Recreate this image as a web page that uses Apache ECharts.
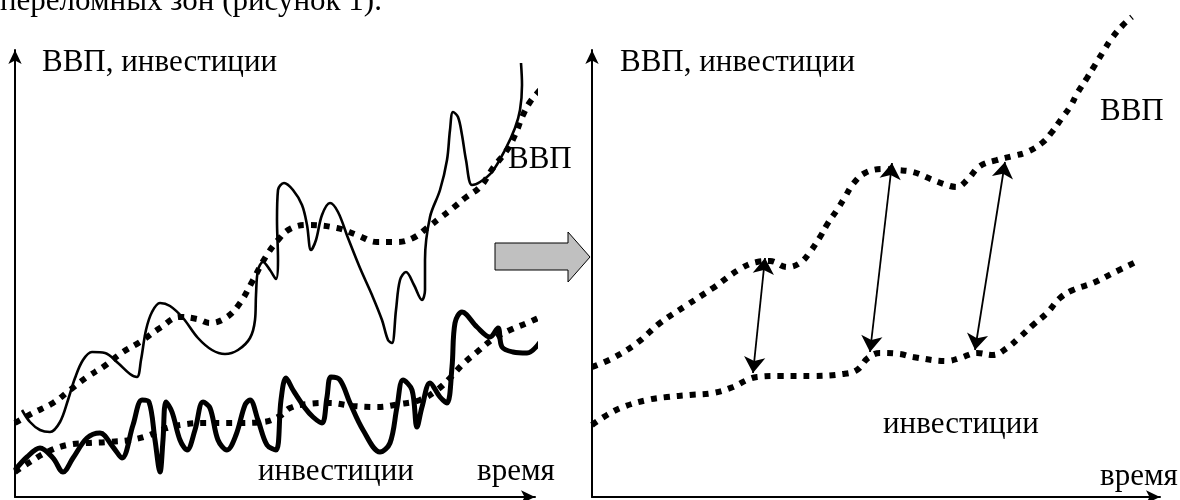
<!DOCTYPE html>
<html lang="ru">
<head>
<meta charset="utf-8">
<title>ВВП и инвестиции</title>
<script src="https://cdn.jsdelivr.net/npm/echarts@6/dist/echarts.min.js"></script>
<style>
  html, body { margin: 0; padding: 0; background: #fff; }
  #main { width: 1180px; height: 500px; }
</style>
</head>
<body>
<div id="main"></div>
<script>
// левая панель: [время, величина]
var gdpTrendLeft = [[0,74],[18,84],[38,94],[55,107],[72,120],[88,130],[108,145],[125,155],[145,169],[165,180],[182,178],[195,174],[212,180],[225,194],[237,215],[250,239],[263,257],[275,268],[292,272],[322,269],[342,262],[362,255],[382,255],[398,259],[412,269],[425,279],[438,289],[450,299],[465,310],[478,329],[492,347],[500,362],[508,382],[515,395],[525,407],[533,417],[542,424]];
var gdpLeft = [[7,87],[15,75],[25,67],[35,65],[45,75],[53,97],[60,119],[68,137],[77,145],[90,144],[103,134],[115,123],[122,120],[126,137],[131,167],[137,185],[145,194],[155,191],[168,179],[183,159],[197,147],[210,143],[223,147],[235,159],[240,177],[241,202],[243,227],[248,235],[255,227],[261,218],[263,237],[262,277],[263,307],[269,314],[278,307],[287,292],[292,272],[296,247],[301,257],[307,282],[315,294],[323,285],[333,259],[345,229],[357,202],[367,177],[373,157],[377,154],[381,187],[385,217],[391,225],[399,212],[407,197],[410,207],[410,237],[415,280],[425,307],[432,337],[435,367],[438,385],[443,380],[447,362],[451,337],[457,312],[465,315],[477,325],[490,347],[500,369],[505,387],[507,412],[506,434]];
var investLeft = [[0,27],[12,40],[25,49],[38,39],[48,25],[58,39],[72,59],[85,64],[98,50],[107,39],[118,72],[127,97],[134,95],[140,57],[145,25],[148,57],[151,95],[157,85],[165,57],[172,47],[180,67],[188,95],[195,89],[203,57],[212,47],[221,62],[230,92],[235,97],[243,77],[252,52],[261,47],[266,97],[271,119],[278,107],[290,89],[298,80],[307,74],[312,100],[316,120],[325,117],[335,94],[348,67],[365,45],[375,54],[382,90],[388,117],[397,107],[402,70],[407,90],[415,114],[425,100],[432,94],[437,130],[440,174],[447,185],[462,170],[475,160],[483,169],[487,150],[498,145],[512,144],[528,159]];
var investTrendLeft = [[0,25],[15,35],[32,45],[52,52],[72,54],[92,55],[115,57],[132,61],[152,69],[172,73],[192,74],[218,74],[248,75],[265,81],[275,89],[292,93],[315,94],[338,91],[362,90],[385,93],[405,97],[422,107],[435,119],[448,133],[462,145],[478,158],[495,167],[512,174],[528,181],[548,189]];

// правая панель
var gdpRight = [[0,130],[21,139],[45,154],[68,174],[95,192],[121,209],[148,228],[165,235],[178,236],[195,230],[208,234],[218,245],[228,260],[236,274],[245,287],[253,300],[261,313],[273,324],[291,328],[305,327],[321,325],[341,317],[358,311],[365,310],[376,318],[388,331],[405,337],[421,341],[435,345],[450,354],[460,365],[470,379],[478,390],[486,405],[495,419],[503,432],[511,445],[520,459],[531,472],[540,480]];
var investRight = [[0,72],[15,82],[31,90],[55,97],[75,100],[98,102],[121,104],[141,110],[155,117],[165,120],[188,121],[221,121],[251,123],[265,127],[276,139],[288,144],[308,143],[321,140],[355,136],[368,139],[385,144],[401,142],[415,149],[428,160],[441,172],[455,184],[468,199],[481,207],[501,214],[521,224],[548,237]];
// разрыв ВВП - инвестиции (стрелки)
var gaps = [[[173,239],[161,124]], [[300,334],[278,145]], [[413,335],[383,147]]];

var chart = echarts.init(document.getElementById('main'));
var font = '"Liberation Serif", "Times New Roman", serif';

function axis(grid, max) {
  return {
    type: 'value', gridIndex: grid, min: 0, max: max,
    axisLine: { show: true, onZero: false, symbol: ['none', 'arrow'], symbolSize: [10, 14],
      lineStyle: { color: '#000', width: 2 } },
    axisTick: { show: false }, axisLabel: { show: false }, splitLine: { show: false }
  };
}

function dotted(data, xi) {
  return { type: 'line', data: data, xAxisIndex: xi, yAxisIndex: xi, smooth: 0.4,
    showSymbol: false, clip: false, silent: true,
    lineStyle: { color: '#000', width: 6, type: [6, 7] } };
}
function solid(data, w) {
  return { type: 'line', data: data, smooth: 0.35, showSymbol: false, clip: false, silent: true,
    lineStyle: { color: '#000', width: w } };
}

function label(text, x, y) {
  return { type: 'text', x: x, y: y, style: { text: text, font: '31px ' + font, fill: '#000', verticalAlign: 'middle' } };
}

var right = dotted(gdpRight, 1);
right.markLine = {
  silent: true, symbol: ['arrow', 'arrow'], symbolSize: 16,
  label: { show: false },
  lineStyle: { color: '#000', width: 1.8, type: 'solid' },
  data: gaps.map(function (g) { return [{ coord: g[0] }, { coord: g[1] }]; })
};

chart.setOption({
  animation: false,
  grid: [
    { left: 15, top: 50, width: 520, height: 447 },
    { left: 592, top: 50, width: 568, height: 447 }
  ],
  xAxis: [axis(0, 520), axis(1, 568)],
  yAxis: [axis(0, 447), axis(1, 447)],
  series: [
    dotted(gdpTrendLeft, 0),
    solid(gdpLeft, 2.6),
    solid(investLeft, 5),
    dotted(investTrendLeft, 0),
    right,
    dotted(investRight, 1)
  ],
  graphic: [
    label('переломных зон (рисунок 1).', 0, 2),
    label('ВВП, инвестиции', 42, 63),
    label('ВВП', 508, 160),
    label('инвестиции', 258, 472),
    label('время', 477, 472),
    label('ВВП, инвестиции', 620, 63),
    label('ВВП', 1100, 112),
    label('инвестиции', 883, 425),
    label('время', 1100, 477),
    { type: 'polygon', shape: { points: [[495,243],[568,243],[568,232],[590,257],[568,282],[568,270],[495,270]] },
      style: { fill: '#c0c0c0', stroke: '#000', lineWidth: 1 } }
  ]
});
</script>
</body>
</html>
